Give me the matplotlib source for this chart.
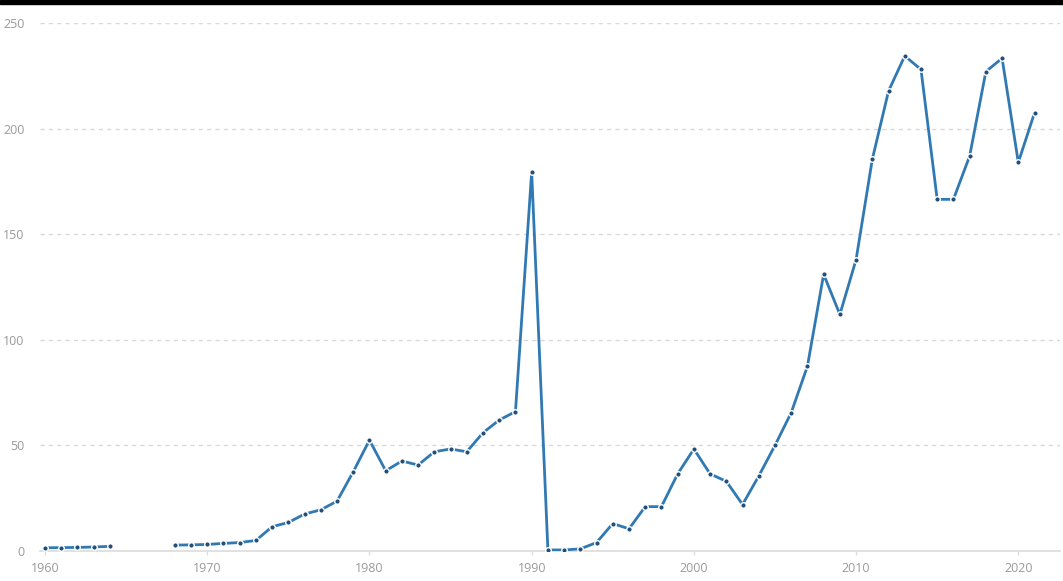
import numpy as np
import matplotlib.pyplot as plt

years = list(range(1960, 2022))
values = [1.5, 1.6, 1.7, 1.9, 2.2, np.nan, np.nan, np.nan,
          2.8, 2.9, 3.1, 3.6, 4.0, 5.0, 11.5, 13.5, 17.5, 19.5, 23.6, 37.5,
          52.5, 38.0, 42.6, 40.7, 47.0, 48.3, 47.0, 56.0, 62.0, 66.0,
          179.5, 0.5, 0.5, 1.0, 4.0, 13.0, 10.5, 21.0, 21.0, 36.5,
          48.3, 36.5, 33.0, 22.0, 35.5, 50.0, 65.5, 87.5, 131.0, 112.0,
          138.0, 185.5, 217.8, 234.4, 228.0, 166.5, 166.5, 187.0, 227.0, 233.3,
          184.0, 207.5]
xticks = [1960, 1970, 1980, 1990, 2000, 2010, 2020]
yticks = [0, 50, 100, 150, 200, 250]

plt.rcParams['font.family'] = ['Open Sans', 'DejaVu Sans']

fig = plt.figure(figsize=(10.63, 5.81), dpi=100)
ax = fig.add_axes([40 / 1063, 1 - 551 / 581, 1020 / 1063, (551 - 23) / 581])

# thin black bar across the top
fig.patches.append(plt.Rectangle((0, 1 - 4 / 581), 1, 4 / 581, transform=fig.transFigure,
                                 color='black', zorder=10))

ax.plot(years, values, color='#3079b3', linewidth=2.0, marker='o', markersize=4.0,
        markerfacecolor='#234f78', markeredgecolor='white', markeredgewidth=1.0,
        zorder=3)

ax.set_xlim(1959.69, 2022.57)
ax.set_ylim(0, 250)
ax.set_xticks(xticks)
ax.set_yticks(yticks)

for y in yticks[1:]:
    ax.axhline(y, color='#d9d9d9', linewidth=1, linestyle=(0, (3, 3)), zorder=1)

for s in ['top', 'right', 'left']:
    ax.spines[s].set_visible(False)
ax.spines['bottom'].set_color('#dcdcdc')
ax.spines['bottom'].set_linewidth(1.2)
ax.spines['bottom'].set_zorder(2)

ax.tick_params(axis='y', length=0, pad=11, labelsize=9, labelcolor='#9a9a9a')
ax.tick_params(axis='x', length=3, width=1, color='#dcdcdc', pad=5,
               labelsize=9, labelcolor='#9a9a9a')

fig.savefig('out.png', dpi=100)
